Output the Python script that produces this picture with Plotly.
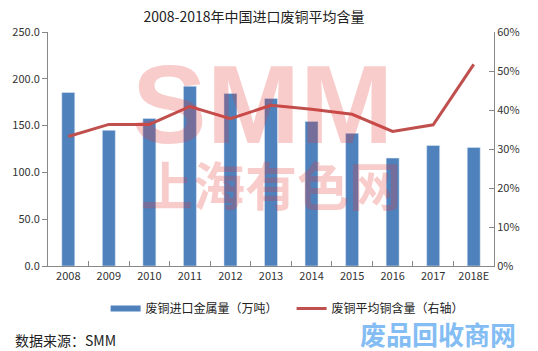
import plotly.graph_objects as go

years = ["2008", "2009", "2010", "2011", "2012", "2013", "2014", "2015", "2016", "2017", "2018E"]
import_metal = [185.4, 144.9, 157.7, 192.1, 184.4, 179.0, 154.5, 141.7, 115.3, 128.8, 126.7]
avg_content = [0.332, 0.363, 0.363, 0.409, 0.378, 0.412, 0.402, 0.389, 0.345, 0.362, 0.517]

bar_name = "废铜进口金属量（万吨）"
line_name = "废铜平均铜含量（右轴）"
title_text = "2008-2018年中国进口废铜平均含量"
source_text = "数据来源：SMM"

BLUE = "#4F81BD"
RED = "#C0504D"
CJK = "Noto Sans CJK SC, Liberation Sans, sans-serif"
WM = "rgba(230,50,50,0.25)"

fig = go.Figure()
fig.add_trace(go.Bar(x=years, y=import_metal, name=bar_name, marker_color=BLUE,
                     width=0.32, showlegend=False, yaxis="y"))
fig.add_trace(go.Scatter(x=[None], y=[None], mode="lines", name=bar_name,
                         line=dict(color=BLUE, width=6), yaxis="y"))
fig.add_trace(go.Scatter(x=years, y=avg_content, mode="lines", name=line_name,
                         line=dict(color=RED, width=3), yaxis="y2"))

W, H = 538, 351
L, R, T, B = 45, 44, 31.5, 85
pw, ph = W - L - R, H - T - B

def px(x):
    return (x - L) / pw

def py(y):
    return (H - B - y) / ph

fig.update_layout(
    width=W, height=H,
    margin=dict(l=L, r=R, t=T, b=B),
    paper_bgcolor="white", plot_bgcolor="white",
    font=dict(family=CJK, size=11, color="#333333"),
    bargap=0.68,
    title=dict(text=title_text, xref="container", yref="container",
               x=254 / W, y=1 - 17 / H, xanchor="center", yanchor="middle",
               font=dict(size=14, color="#222222", family=CJK)),
    xaxis=dict(type="category", showline=True, linecolor="#888888", linewidth=1,
               ticks="inside", ticklen=5, tickcolor="#888888", tickson="boundaries",
               showgrid=False, tickfont=dict(size=11, color="#333333")),
    yaxis=dict(range=[0, 250], dtick=50, tickformat=".1f", showline=True,
               linecolor="#888888", linewidth=1, ticks="outside", ticklen=5,
               tickcolor="#888888", showgrid=False, zeroline=False,
               tickfont=dict(size=11, color="#333333")),
    yaxis2=dict(range=[0, 0.6], dtick=0.1, tickformat=".0%", overlaying="y",
                side="right", showline=True, linecolor="#888888", linewidth=1,
                ticks="inside", ticklen=5, tickcolor="#888888", showgrid=False,
                zeroline=False, tickfont=dict(size=11, color="#333333")),
    legend=dict(orientation="h", x=px(103), y=py(308.5), xanchor="left", yanchor="middle",
                font=dict(size=12, color="#222222", family=CJK),
                itemwidth=30,
                entrywidth=141, entrywidthmode="pixels", bgcolor="rgba(0,0,0,0)"),
)

annotations = [
    dict(text="SMM", x=px(260.5), y=py(104), xref="paper", yref="paper",
         showarrow=False, xanchor="center", yanchor="middle",
         font=dict(family="Liberation Sans", size=112, color=WM, weight="bold")),
    dict(text="上海有色网", x=px(270), y=py(183), xref="paper", yref="paper",
         showarrow=False, xanchor="center", yanchor="middle",
         font=dict(family=CJK, size=52, color=WM, weight="bold")),
    dict(text=source_text, x=px(10), y=py(340), xref="paper", yref="paper",
         showarrow=False, xanchor="left", yanchor="middle",
         font=dict(family=CJK, size=14, color="#222222")),
    dict(text="废品回收商网", x=px(357), y=py(334), xref="paper", yref="paper",
         showarrow=False, xanchor="left", yanchor="middle",
         font=dict(family=CJK, size=26, color="#84BDF3", weight="bold")),
]
fig.update_layout(annotations=annotations)

fig.write_html("out.html")
